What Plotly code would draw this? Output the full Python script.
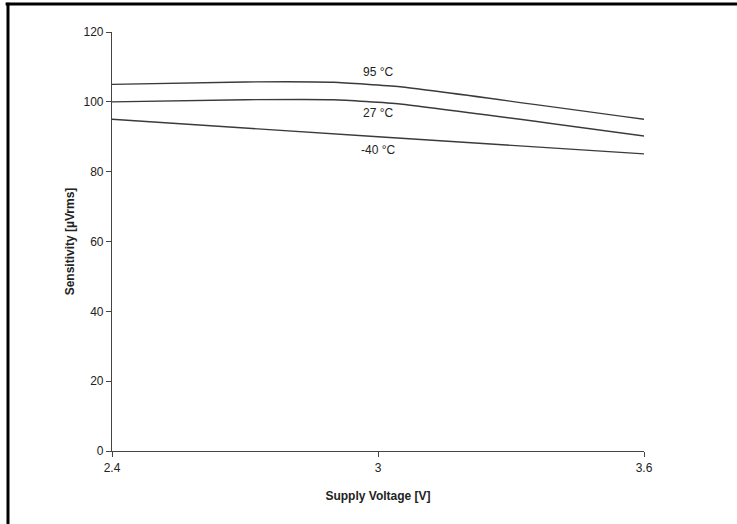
import plotly.graph_objects as go

voltage_95 = [2.4, 2.7, 2.9, 3.05, 3.6]
sens_95 = [105.0, 105.7, 105.6, 104.3, 95.0]
voltage_27 = [2.4, 2.7, 2.9, 3.05, 3.6]
sens_27 = [100.0, 100.6, 100.6, 99.4, 90.2]
voltage_m40 = [2.4, 3.0, 3.6]
sens_m40 = [95.0, 90.0, 85.1]

labels = ["95 °C", "27 °C", "-40 °C"]
label_x = [3.0, 3.0, 3.0]
label_y = [108.6, 96.8, 86.2]

x_ticks = [2.4, 3.0, 3.6]
x_tick_text = ["2.4", "3", "3.6"]
y_ticks = [0, 20, 40, 60, 80, 100, 120]

line_color = "#3a3a3a"
fig = go.Figure()
for xs, ys in [(voltage_95, sens_95), (voltage_27, sens_27), (voltage_m40, sens_m40)]:
    fig.add_trace(go.Scatter(x=xs, y=ys, mode="lines", line=dict(color=line_color, width=1.4, shape="spline", smoothing=0.4), showlegend=False))

for t, lx, ly in zip(labels, label_x, label_y):
    fig.add_annotation(x=lx, y=ly, text=t, showarrow=False, font=dict(family="Liberation Sans, Arial", size=12, color="#222"))

fig.update_layout(
    width=737, height=524,
    margin=dict(l=112, r=93, t=32, b=73),
    plot_bgcolor="white", paper_bgcolor="white",
    font=dict(family="Liberation Sans, Arial", size=12, color="#222"),
    xaxis=dict(range=[2.4, 3.6], tickvals=x_ticks, ticktext=x_tick_text, showgrid=False, zeroline=False,
               showline=True, linecolor="#444", linewidth=1.2, ticks="outside", ticklen=5, tickcolor="#444",
               title=dict(text="<b>Supply Voltage [V]</b>", font=dict(size=12), standoff=18)),
    yaxis=dict(range=[0, 120], tickvals=y_ticks, showgrid=False, zeroline=False,
               showline=True, linecolor="#444", linewidth=1.2, ticks="outside", ticklen=5, tickcolor="#444",
               title=dict(text="<b>Sensitivity [µVrms]</b>", font=dict(size=12), standoff=6)),
    shapes=[
        dict(type="line", xref="paper", yref="paper", x0=-0.2, x1=1.2, y0=1.0668, y1=1.0668, line=dict(color="black", width=3)),
        dict(type="line", xref="paper", yref="paper", x0=-0.1955, x1=-0.1955, y0=1.07, y1=-0.2, line=dict(color="black", width=3)),
    ],
)
fig.write_html("out.html", config={"displayModeBar": False}, post_script="document.body.style.margin='0';")
